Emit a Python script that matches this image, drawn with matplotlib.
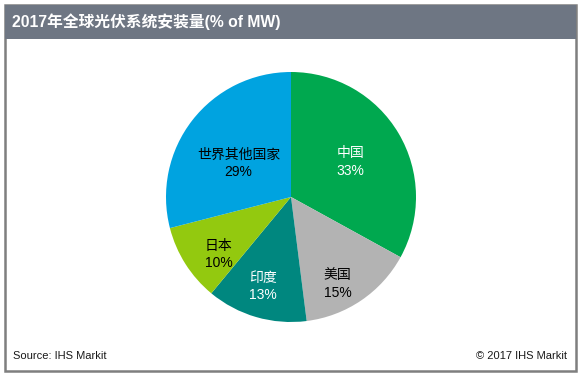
import matplotlib
matplotlib.use("Agg")
import matplotlib.pyplot as plt
from matplotlib.patches import Rectangle
import numpy as np

plt.rcParams['font.family'] = ['Liberation Sans', 'Noto Sans CJK SC', 'DejaVu Sans']

# data
countries = ['中国', '美国', '印度', '日本', '世界其他国家']
shares = [33, 15, 13, 10, 29]
colors = ['#00A84F', '#B3B3B3', '#00877F', '#93C90F', '#00A3E0']
text_colors = ['white', 'black', 'white', 'black', 'black']
label_radius = [0.55, 0.79, 0.75, 0.74, 0.50]
label_shift = [0, -6, -1, 6, 5]  # degrees, nudges label angle

title = '2017年全球光伏系统安装量(% of MW)'
source = 'Source: IHS Markit'
copyright_txt = '© 2017 IHS Markit'

W, H = 582, 376
fig = plt.figure(figsize=(W / 100, H / 100), dpi=100)
fig.patch.set_facecolor('white')

# frame and header band (figure pixel coordinates)
bg = fig.add_axes([0, 0, 1, 1])
bg.set_xlim(0, W)
bg.set_ylim(H, 0)
bg.axis('off')
bg.add_patch(Rectangle((5, 5), 571, 366, facecolor='white', edgecolor='#7F7F7F', lw=1.8))
bg.add_patch(Rectangle((5, 5), 571, 34, facecolor='#6E7683', edgecolor='none'))
bg.text(12, 22, title, color='white', fontsize=11.3, fontweight='bold',
        va='center', ha='left',
        family=['Liberation Sans', 'Noto Sans CJK SC'])
bg.text(13, 356, source, fontsize=8, va='center', ha='left', color='#1A1A1A')
bg.text(567, 356, copyright_txt, fontsize=8, va='center', ha='right', color='#1A1A1A')

# pie axes: center (291, 197), radius 125 px
cx, cy, r = 291, 197, 125
ax = fig.add_axes([(cx - r) / W, 1 - (cy + r) / H, 2 * r / W, 2 * r / H])
wedges, _ = ax.pie(shares, colors=colors, startangle=90, counterclock=False,
                   wedgeprops=dict(linewidth=0))
ax.set_aspect('equal')
ax.set_xlim(-1, 1)
ax.set_ylim(-1, 1)

for w, name, val, tc, rad, sh in zip(wedges, countries, shares, text_colors,
                                     label_radius, label_shift):
    ang = np.deg2rad((w.theta1 + w.theta2) / 2 + sh)
    ax.text(rad * np.cos(ang), rad * np.sin(ang), f'{name}\n{val}%',
            ha='center', va='center', color=tc, fontsize=10, linespacing=1.3,
            family=['Liberation Sans', 'Noto Sans CJK SC'])

fig.savefig('out.png', dpi=100)
